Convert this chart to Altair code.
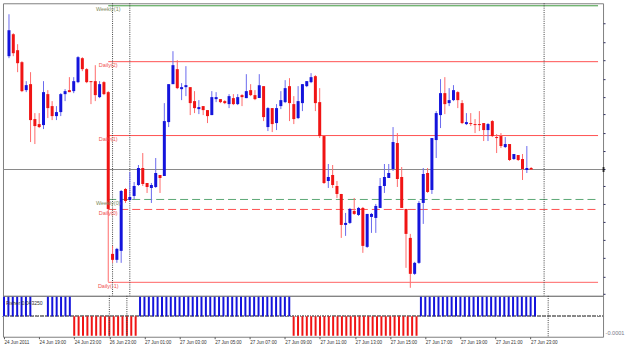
import altair as alt
import pandas as pd

# ---- candle data (15-minute bars, price in points) ----
opens = [245,267,251,239,211,217,182,177,176,207,
         195,185,189,207,211,210,219,243,232,220,
         220,204,219,209,47,41,50,112,101,105,
         116,133,118,113,114,126,125,179,217,232,
         212,214,214,200,192,195,191,186,202,202,
         200,197,203,197,206,203,211,206,203,215,
         174,193,178,195,199,215,197,183,198,215,
         219,225,199,165,120,126,115,107,76,78,
         90,86,93,54,84,83,93,115,123,132,
         158,124,92,63,27,38,98,128,111,161,
         186,208,198,201,209,198,177,178,177,177,
         178,171,180,164,165,154,157,142,146,142,
         131,133]
closes = [271,248,238,210,216,181,175,174,209,193,
          185,189,207,210,209,220,244,232,219,219,
          206,217,207,92,41,52,110,100,104,115,
          133,117,114,116,128,123,180,217,236,213,
          214,216,198,193,194,191,185,204,204,199,
          198,205,197,204,204,210,206,202,216,184,
          193,177,193,201,213,198,182,200,217,220,
          224,198,165,118,124,116,107,76,78,92,
          87,93,55,87,87,95,115,124,128,159,
          122,93,67,27,38,98,127,109,163,188,
          208,197,201,211,201,178,179,177,176,176,
          171,177,165,163,155,157,141,147,141,132,
          133,131.5]
highs = [287,268,257,240,220,229,188,188,220,211,
         200,195,208,212,224,224,245,244,233,220,
         236,220,220,210,55,53,111,113,129,119,
         136,148,118,118,143,126,198,217,250,241,
         218,235,214,210,201,195,191,210,209,202,
         201,207,207,207,207,227,217,211,227,215,
         194,193,197,210,221,223,205,215,217,220,
         228,226,213,165,137,136,120,107,88,93,
         103,94,94,87,88,97,123,137,137,174,
         168,134,92,67,39,100,133,133,163,190,
         222,224,213,216,210,201,188,188,182,190,
         178,178,181,167,168,164,157,147,146,147,
         155,134]
lows = [243,245,229,209,209,159,157,173,172,183,
        181,181,185,200,209,208,218,230,218,197,
        200,203,206,19,38,38,38,98,100,102,
        115,115,108,98,113,108,125,174,217,212,
        201,205,186,188,187,186,178,186,199,198,
        197,193,196,196,195,203,205,201,203,180,
        170,169,171,192,198,180,177,182,190,214,
        218,190,163,117,113,113,103,63,65,77,
        86,85,48,53,68,68,93,108,123,130,
        114,93,33,13,26,37,77,108,107,143,
        173,187,195,200,193,177,176,175,168,170,
        160,160,164,148,153,153,140,141,140,121,
        128,131]

# Fisher histogram (sign of the indicator per bar, 0 = no bar)
fisher = [1,1,1,1,1,1,1,0,0,0,1,1,1,1,1,1,
          -1,-1,-1,-1,-1,-1,-1,-1,-1,-1,-1,-1,-1,-1,-1,
          1,1,1,1,1,1,1,1,1,1,1,1,1,1,1,1,1,1,1,1,1,1,1,1,1,1,1,1,1,1,1,1,1,1,1,
          -1,-1,-1,-1,-1,-1,-1,-1,-1,-1,-1,-1,-1,-1,-1,-1,-1,-1,-1,-1,-1,-1,-1,-1,-1,-1,-1,-1,-1,
          1,1,1,1,1,1,1,1,1,1,1,1,1,1,1,1,1,1,1,1,1,1,1,1,1,1,1]
fisher_text = "Fisher 0.043250"
fisher_axis_label = "-0.0001"

# pivot levels
level_names = ["Weekly(1)", "Daily(2)", "Daily(1)", "Weekly(0)", "Daily(0)", "Daily(-1)"]
level_values = [295.5, 239.5, 165.5, 101.5, 91.5, 18.5]
level_start = 23
level_end = 136.5
level_line_colors = ["#3f9a3f", "#ff5050", "#ff5050", "#5aa874", "#ff5050", "#ff6464"]
level_text_colors = ["#7e8a5e", "#f05050", "#f05050", "#7e8a5e", "#f05050", "#f05050"]
level_dashed = [False, False, False, True, True, False]

# period separators (bar index)
separators = [24, 28, 124]

# time axis labels
label_idx = [0, 8, 16, 24, 32, 40, 48, 56, 64, 72, 80, 88, 96, 104, 112, 120]
time_labels = ["24 Jun 2011", "24 Jun 19:00", "24 Jun 23:00", "26 Jun 23:00",
               "27 Jun 01:00", "27 Jun 03:00", "27 Jun 05:00", "27 Jun 07:00",
               "27 Jun 09:00", "27 Jun 11:00", "27 Jun 13:00", "27 Jun 15:00",
               "27 Jun 17:00", "27 Jun 19:00", "27 Jun 21:00", "27 Jun 23:00"]

price_ticks = [277.7, 259, 240.7, 222.3, 204, 186.7, 168.3, 150, 132, 115,
               96.7, 79, 61, 42.7, 24.3, 6.7]

FONT = "Liberation Sans"
BLUE = "#1414dc"
RED = "#f01414"
WICK_BLUE = "#6a6aee"
WICK_RED = "#ff6a6a"

n = len(opens)
df = pd.DataFrame({"i": list(range(n)), "open": opens, "close": closes,
                   "high": highs, "low": lows, "fisher": fisher})
df["zero"] = 0
fisher_df = df[df["fisher"] != 0]

lv = pd.DataFrame({"name": level_names, "level": level_values,
                   "lc": level_line_colors, "tc": level_text_colors,
                   "dashed": level_dashed})
lv["start"] = level_start
lv["end"] = level_end
lv_solid = lv[~lv["dashed"]]
lv_dashed = lv[lv["dashed"]]

sep_df = pd.DataFrame({"sep": separators})
last_df = pd.DataFrame({"price": [closes[-1]]})

xscale = alt.Scale(domain=[-0.23, 136.5], nice=False, zero=False)
yscale = alt.Scale(domain=[5, 298], nice=False, zero=False)
yaxis = alt.Axis(orient="right", values=price_ticks, labels=False, tickSize=2,
                 tickColor="#303060", domain=False, grid=False, title=None)

W = 601
H_MAIN = 293
H_SUB = 41

is_up = "datum.close >= datum.open"

base = alt.Chart(df)

cur_line = alt.Chart(last_df).mark_rule(color="#8a8a8a", strokeWidth=1).encode(
    y=alt.Y("price:Q", scale=yscale, axis=yaxis))

sep_main = alt.Chart(sep_df).mark_rule(color="#404040", strokeDash=[1, 1.2], strokeWidth=1).encode(
    x=alt.X("sep:Q", scale=xscale, axis=None))


def pivot_layer(data, dash):
    kw = {"strokeWidth": 1}
    if dash:
        kw["strokeDash"] = [8, 4]
    return alt.Chart(data).mark_rule(**kw).encode(
        x=alt.X("start:Q", scale=xscale, axis=None), x2="end:Q",
        y=alt.Y("level:Q", scale=yscale, axis=yaxis),
        color=alt.Color("lc:N", scale=None, legend=None))


pivots_solid = pivot_layer(lv_solid, False)
pivots_dashed = pivot_layer(lv_dashed, True)

pivot_text = alt.Chart(lv).mark_text(align="center", baseline="top", dy=1.2,
                                     fontSize=5.5, font=FONT).encode(
    x=alt.X("start:Q", scale=xscale, axis=None),
    y=alt.Y("level:Q", scale=yscale, axis=yaxis),
    text="name:N",
    color=alt.Color("tc:N", scale=None, legend=None))

wicks = base.mark_rule(strokeWidth=1).encode(
    x=alt.X("i:Q", scale=xscale, axis=None),
    y=alt.Y("low:Q", scale=yscale, axis=yaxis), y2="high:Q",
    color=alt.condition(is_up, alt.value(WICK_BLUE), alt.value(WICK_RED)))

bodies = base.mark_bar(size=3).encode(
    x=alt.X("i:Q", scale=xscale, axis=None),
    y=alt.Y("open:Q", scale=yscale, axis=yaxis), y2="close:Q",
    color=alt.condition(is_up, alt.value(BLUE), alt.value(RED)))

marker = alt.Chart(last_df).mark_tick(orient="vertical", size=5, thickness=2, color="black").encode(
    x=alt.value(W + 0.5),
    y=alt.Y("price:Q", scale=yscale, axis=yaxis))

main = alt.layer(cur_line, pivots_solid, pivots_dashed, sep_main, wicks, bodies,
                 pivot_text, marker).properties(width=W, height=H_MAIN)

# ---- sub panel ----
label_expr = "[" + ",".join("'%s'" % t for t in time_labels) + "][indexof([" + \
    ",".join(str(v) for v in label_idx) + "], datum.value)]"

xaxis_sub = alt.Axis(values=label_idx, labelExpr=label_expr, labelAlign="left",
                     labelBaseline="top", labelFontSize=4.6, labelFont=FONT,
                     labelColor="#333333", tickSize=2, tickColor="#555555",
                     domain=False, grid=False, labelOverlap=False, labelFlush=False,
                     labelBound=False, labelPadding=1, title=None)
yscale_sub = alt.Scale(domain=[-1.05, 1.05], nice=False, zero=False)
yaxis_sub = alt.Axis(orient="right", values=[-0.85], labelExpr="'%s'" % fisher_axis_label,
                     tickSize=0, labelPadding=2, labelFontSize=5.6, labelFont=FONT,
                     labelColor="#7a7a8a", domain=False, grid=False, title=None)

zero_line = alt.Chart(df).mark_rule(color="#8a8a8a", strokeDash=[1, 1.5]).encode(
    y=alt.Y("zero:Q", scale=yscale_sub, axis=yaxis_sub))

fisher_bars = alt.Chart(fisher_df).mark_rule(strokeWidth=2).encode(
    x=alt.X("i:Q", scale=xscale, axis=xaxis_sub),
    y=alt.Y("fisher:Q", scale=yscale_sub, axis=yaxis_sub), y2="zero:Q",
    color=alt.condition("datum.fisher > 0", alt.value(BLUE), alt.value(RED)))

sep_sub = alt.Chart(sep_df).mark_rule(color="#404040", strokeDash=[1, 1.2], strokeWidth=1).encode(
    x=alt.X("sep:Q", scale=xscale, axis=xaxis_sub))

fisher_label = alt.Chart(last_df).mark_text(align="left", baseline="middle", fontSize=5.1,
                                            font=FONT, color="#333333").encode(
    x=alt.value(3), y=alt.value(7), text=alt.value(fisher_text))

sub = alt.layer(zero_line, fisher_bars, sep_sub, fisher_label).properties(width=W, height=H_SUB)

chart = alt.vconcat(main, sub, spacing=0, bounds="flush").properties(
    padding={"left": 2, "top": 2, "right": 0, "bottom": 0},
    background="white"
).configure_view(stroke="#808080", strokeWidth=1)

chart.save("out.html", embed_options={"renderer": "svg", "actions": False})
